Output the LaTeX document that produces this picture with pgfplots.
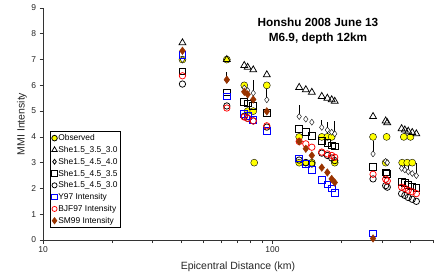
\documentclass[border=0pt]{standalone}
\usepackage{pgfplots}
\pgfplotsset{compat=1.18}
\usepackage{pgfplotstable}
\usepackage{fontspec}
\setmainfont{Liberation Sans}
\definecolor{sm}{RGB}{153,51,0}
\definecolor{yel}{RGB}{255,255,0}
\pgfplotsset{mylegimg/.style={legend image code/.code={\draw[mark repeat=2,mark phase=2,##1,every mark/.append style={scale=0.8}] plot coordinates {(0cm,0cm)(0.1cm,0cm)(0.2cm,0cm)};}}}

\pgfplotstableread{
x y
40.5 7.0
63.2 7.0
75.3 6.0
77.9 5.0
82.4 5.0
83.2 3.0
94.4 6.0
130.6 4.0
130.6 3.0
139.6 3.0
148.3 3.0
163.8 4.0
173.3 4.0
181.0 4.0
186.6 3.0
274 4.0
314 4.0
311 3.0
373 4.0
399 4.0
367 3.0
386 3.0
406 3.0
}\obs

\pgfplotstableread{
x y
40.5 7.65
63.2 7.0
75.3 6.77
77.9 6.70
82.4 6.60
94.4 6.41
130.6 5.92
139.6 5.83
148.3 5.73
163.8 5.57
173.3 5.50
181 5.44
186.6 5.38
274 4.79
311 4.62
316 4.55
365 4.32
377 4.27
390 4.22
406 4.17
423 4.12
}\sheA

\pgfplotstableread{
x y e
40.5 7.0 0
63.2 6.2 0.3
75.3 5.9 0
77.9 5.8 0
82.4 5.7 0.5
94.4 5.44 0.5
130.6 4.79 0.45
139.6 4.69 0
148.3 4.57 0
163.8 4.37 0.3
173.3 4.27 0.3
181 4.18 0
186.6 4.12 0.5
274 3.34 0.5
311 3.05 0
316 3.0 0
365 2.78 0
377 2.72 0.3
390 2.65 0.3
406 2.58 0
423 2.5 0.5
}\sheB

\pgfplotstableread{
x y
40.5 6.54
63.2 5.73
75.3 5.35
77.9 5.30
82.4 5.20
94.4 4.92
130.6 4.30
139.6 4.18
148.3 4.05
163.8 3.85
173.3 3.76
181 3.67
186.6 3.63
274 2.85
311 2.62
316 2.56
365 2.27
377 2.22
390 2.15
406 2.08
423 2.02
}\sheC

\pgfplotstableread{
x y
40.5 6.05
63.2 5.2
75.3 4.8
77.9 4.72
82.4 4.62
94.4 4.38
130.6 3.1
139.6 3.0
148.3 2.95
163.8 3.37
173.3 3.28
181 3.18
186.6 3.08
274 2.37
311 2.11
316 2.05
365 1.8
377 1.73
390 1.65
406 1.58
423 1.5
}\sheD

\pgfplotstableread{
x y
40.5 7.19
63.2 5.57
75.3 4.9
77.9 4.8
82.4 4.65
94.4 4.24
130.6 3.17
139.6 2.94
148.3 2.72
163.8 2.33
173.3 2.16
181 2.0
186.6 1.84
274 0.26
}\yns

\pgfplotstableread{
x y
40.5 6.37
63.2 5.12
75.3 4.77
77.9 4.72
82.4 4.62
94.4 4.43
130.6 3.82
139.6 3.73
148.3 3.60
163.8 3.41
173.3 3.34
181 3.28
186.6 3.21
274 2.55
311 2.36
316 2.29
365 2.05
377 2.0
390 1.93
406 1.87
423 1.8
}\bjf

\pgfplotstableread{
x y
40.5 7.34
63.2 6.22
75.3 5.75
77.9 5.65
82.4 5.45
94.4 4.99
130.6 3.82
139.6 3.54
148.3 3.28
163.8 2.81
173.3 2.62
181 2.37
186.6 2.23
274 0.06
}\smn

\begin{document}
\begin{tikzpicture}
\useasboundingbox (0,0) rectangle (443pt,273pt);
\begin{semilogxaxis}[
  at={(43pt,33pt)}, anchor=south west,
  scale only axis, width=390pt, height=232pt,
  xmin=10, xmax=500, ymin=0, ymax=9,
  axis x line*=bottom, axis y line*=left,
  axis line style={-, line width=0.6pt, black!80},
  xtick={10,100}, xticklabels={10,100},
  minor xtick={20,30,40,50,60,70,80,90,200,300,400,500},
  ytick={0,1,...,9},
  tick align=outside, major tick length=3.5pt, minor tick length=3pt,
  tick style={line width=0.6pt, black!80},
  /pgf/number format/assume math mode=true,
  ticklabel style={font=\fontsize{8.5}{10}\selectfont, text=black!85},
  xlabel={Epicentral Distance (km)}, ylabel={MMI Intensity},
  label style={font=\fontsize{10.5}{12}\selectfont, text=black!85},
  xlabel style={at={(axis description cs:0.5,0)}, anchor=center, yshift=-27pt},
  ylabel style={at={(axis description cs:0,0.5)}, anchor=center, yshift=21pt},
  clip=false,
  legend style={at={(axis description cs:0.0175,0.471)}, anchor=north west,
    draw=black, line width=0.8pt, font=\fontsize{8.4}{10}\selectfont,
    inner xsep=1.5pt, inner ysep=1.5pt, row sep=0.8pt,
    nodes={inner sep=1pt, text height=7pt, text depth=2pt},
    cells={anchor=west}},
  mylegimg,
  every axis plot/.append style={only marks, mark options={line width=0.75pt, solid}},
]
\addplot[mark=*, mark size=3.5pt, draw=black, fill=yel, mark options={fill=yel}] table[x=x,y=y] {\obs};
\addlegendentry{Observed}
\addplot[mark=triangle, mark size=4pt, black] table[x=x,y=y] {\sheA};
\addlegendentry{She1.5\_3.5\_3.0}
\addplot[mark=diamond*, mark size=3pt, draw=black, mark options={fill=white},
  error bars/.cd, y dir=plus, y explicit, error mark=none,
  error bar style={line width=0.8pt, black}] table[x=x,y=y,y error=e] {\sheB};
\addlegendentry{She1.5\_4.5\_4.0}
\addplot[mark=square, mark size=3.4pt, black] table[x=x,y=y] {\sheC};
\addlegendentry{She1.5\_4.5\_3.5}
\addplot[mark=o, mark size=3.2pt, black] table[x=x,y=y] {\sheD};
\addlegendentry{She1.5\_4.5\_3.0}
\addplot[mark=square, mark size=3.4pt, blue] table[x=x,y=y] {\yns};
\addlegendentry{Y97 Intensity}
\addplot[mark=o, mark size=3.2pt, red] table[x=x,y=y] {\bjf};
\addlegendentry{BJF97 Intensity}
\addplot[mark=diamond*, mark size=3.8pt, draw=sm, fill=sm, mark options={fill=sm}] table[x=x,y=y] {\smn};
\addlegendentry{SM99 Intensity}
\node[align=center, font=\bfseries\fontsize{11.8}{15}\selectfont] at (axis description cs:0.705,0.903) {Honshu 2008 June 13\\M6.9, depth 12km};
\end{semilogxaxis}
\end{tikzpicture}
\end{document}
